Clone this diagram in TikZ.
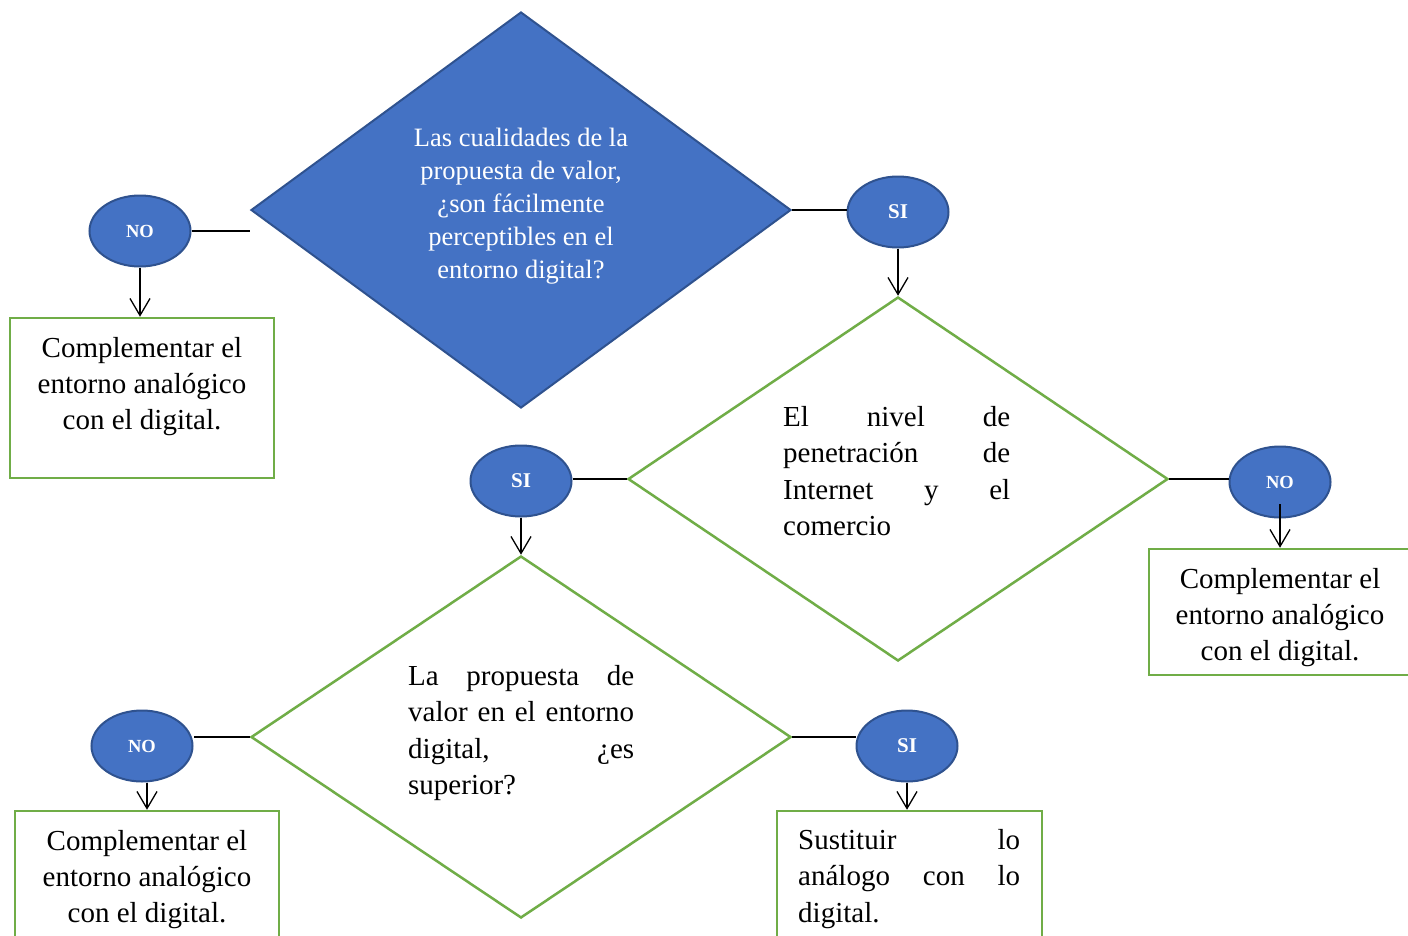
\documentclass[tikz,border=0pt]{standalone}
\usepackage{fontspec}
\setmainfont{Liberation Serif}
\usetikzlibrary{shapes.geometric,arrows.meta,calc}
\definecolor{fillblue}{HTML}{4472C4}
\definecolor{edgeblue}{HTML}{2F528F}
\definecolor{boxgreen}{HTML}{70AD47}
\begin{document}
\begin{tikzpicture}[x=1pt,y=-1pt,
  blobnode/.style={ellipse, fill=fillblue, draw=edgeblue, line width=2pt, minimum width=101pt, minimum height=71pt, inner sep=0pt, text=white},
  nofont/.style={font=\bfseries\fontsize{18.5}{22}\selectfont},
  sifont/.style={font=\bfseries\fontsize{21}{24}\selectfont},
  quesblue/.style={diamond, fill=fillblue, draw=edgeblue, line width=2pt, inner sep=0pt},
  quesgreen/.style={diamond, draw=boxgreen, line width=2.5pt, inner sep=0pt},
  resbox/.style={rectangle, draw=boxgreen, line width=2.5pt, inner sep=0pt},
  restext/.style={anchor=north, inner sep=0pt, align=center, font=\fontsize{29}{36}\selectfont},
  justtext/.style={anchor=north west, inner sep=0pt, align=left, font=\fontsize{29}{36.5}\selectfont},
  link/.style={line width=1.3pt},
  arr/.style={line width=1.3pt, -{Straight Barb[length=17pt,width=20pt]}},
]
\fill[white] (0,0) rectangle (1408,935);
\useasboundingbox (0,0) rectangle (1408,935);
\clip (0,0) rectangle (1408,935);

% diamonds
\node[quesblue, minimum width=540pt, minimum height=396pt] (d1) at (521,210) {};
\node[quesgreen, minimum width=540pt, minimum height=364pt] (d2) at (898,479) {};
\node[quesgreen, minimum width=540pt, minimum height=362pt] (d3) at (521,737) {};

% diamond texts
\node[anchor=north, inner sep=0pt, align=center, text=white, font=\fontsize{26.5}{33}\selectfont] (td1) at (521,128)
  {Las cualidades de la\\propuesta de valor,\\¿son fácilmente\\perceptibles en el\\entorno digital?};
\node[justtext] (td2) at (783,406)
  {\makebox[227pt][s]{El nivel de}\\\makebox[227pt][s]{penetración de}\\\makebox[227pt][s]{Internet y el}\\\makebox[227pt][l]{comercio}};
\node[justtext] (td3) at (408,665)
  {\makebox[226pt][s]{La propuesta de}\\\makebox[226pt][s]{valor en el entorno}\\\makebox[226pt][s]{digital, ¿es}\\\makebox[226pt][l]{superior?}};

% ellipses
\node[blobnode, nofont] (no1) at (140,231) {NO};
\node[blobnode, sifont] (si1) at (898,212) {SI};
\node[blobnode, nofont] (no2) at (1280,482) {NO};
\node[blobnode, sifont] (si2) at (521,481) {SI};
\node[blobnode, nofont] (no3) at (142,746) {NO};
\node[blobnode, sifont] (si3) at (907,746) {SI};

% result boxes
\node[resbox, minimum width=264pt, minimum height=160pt] (box1) at (142,398) {};
\node[resbox, minimum width=270pt, minimum height=126pt] (box2) at (1284,612) {};
\node[resbox, minimum width=264pt, minimum height=160pt] (box3) at (147,891) {};
\node[resbox, minimum width=265pt, minimum height=160pt] (box4) at (909.5,891) {};

\node[restext] (t1) at (142,337) {Complementar el\\entorno analógico\\con el digital.};
\node[restext] (t2) at (1280,568) {Complementar el\\entorno analógico\\con el digital.};
\node[restext] (t3) at (147,830) {Complementar el\\entorno analógico\\con el digital.};
\node[justtext] (t4) at (798,829)
  {\makebox[222pt][s]{Sustituir lo}\\\makebox[222pt][s]{análogo con lo}\\\makebox[222pt][l]{digital.}};

% connectors
\draw[link] (no1.east) -- (no1.east -| d1.west);
\draw[arr] (no1.south) -- (no1.south |- box1.north);
\draw[link] (d1.east) -- (d1.east -| si1.west);
\draw[arr] (si1.south) -- (si1.south |- d2.north);
\draw[link] (d2.east) -- (d2.east -| no2.west);
\draw[arr] ($(no2.center)+(0,22)$) -- (no2.center |- box2.north);
\draw[link] (d2.west) -- (d2.west -| si2.east);
\draw[arr] (si2.south) -- (si2.south |- d3.north);
\draw[link] (d3.west) -- (d3.west -| no3.east);
\draw[arr] (box3.north |- no3.south) -- (box3.north);
\draw[link] (d3.east) -- (d3.east -| si3.west);
\draw[arr] (si3.south) -- (si3.south |- box4.north);
\end{tikzpicture}
\end{document}
